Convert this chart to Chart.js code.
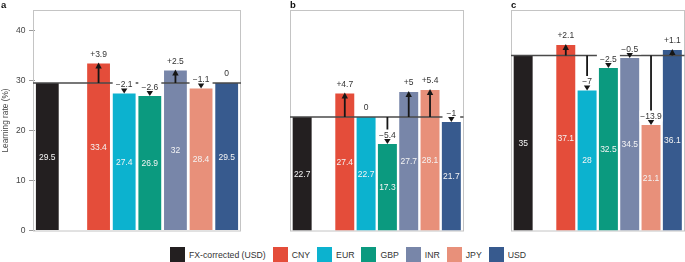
<!DOCTYPE html>
<html>
<head>
<meta charset="utf-8">
<script src="https://cdn.jsdelivr.net/npm/chart.js@4.4.0/dist/chart.umd.min.js"></script>
<style>
body{margin:0;background:#fff;width:685px;height:262px;overflow:hidden;position:relative;font-family:"Liberation Sans",Arial,sans-serif;}
canvas{position:absolute;top:0;}
#panelA{left:0;}
#panelB{left:250px;}
#panelC{left:471px;}
#legend{position:absolute;left:170px;top:247px;display:flex;align-items:center;font-size:8.7px;color:#333;white-space:nowrap;}
#legend .box{width:15px;height:15px;margin-right:4px;}
#legend .txt{margin-right:7px;}
</style>
</head>
<body>
<canvas id="panelA" width="243" height="240"></canvas>
<canvas id="panelB" width="218" height="240"></canvas>
<canvas id="panelC" width="214" height="240"></canvas>
<div id="legend"></div>
<script>
// ---- data ----
const categories = ["FX-corrected (USD)", "CNY", "EUR", "GBP", "INR", "JPY", "USD"];
const panelLetters = ["a", "b", "c"];

const ratesA = [29.5, 33.4, 27.4, 26.9, 32, 28.4, 29.5];
const ratesB = [22.7, 27.4, 22.7, 17.3, 27.7, 28.1, 21.7];
const ratesC = [35, 37.1, 28, 32.5, 34.5, 21.1, 36.1];

const changesA = ["", "+3.9", "\u22122.1", "\u22122.6", "+2.5", "\u22121.1", "0"];
const changesB = ["", "+4.7", "0", "\u22125.4", "+5", "+5.4", "\u22121"];
const changesC = ["", "+2.1", "\u22127", "\u22122.5", "\u22120.5", "\u221213.9", "+1.1"];

const yTicks = [0, 10, 20, 30, 40];

const colors = ["#231f20", "#e44d3a", "#0cb2cf", "#0b9a7f", "#7886a9", "#e8907a", "#375a8e"];

Chart.defaults.font.family = '"Liberation Sans", Arial, sans-serif';

// empty slot after the FX-corrected bar
function toSlots(arr, empty){
    return [arr[0], empty].concat(arr.slice(1));
}

// ---- frame, baseline, arrows and labels ----
const panelDecor = {
    id: "panelDecor",
    beforeDatasetsDraw(chart, args, opts){
        const ctx = chart.ctx, a = chart.chartArea;
        ctx.save();
        ctx.strokeStyle = "#c4c4c4";
        ctx.lineWidth = 1;
        ctx.strokeRect(Math.round(a.left - 1.5) + 0.5, 10.5, Math.round(a.width + 3) - 1, 220.5);
        ctx.restore();
    },
    afterDatasetsDraw(chart, args, opts){
        const ctx = chart.ctx, a = chart.chartArea;
        const xs = chart.scales.x, ys = chart.scales.y;
        const vals = opts.values, changes = opts.changes;
        const y0 = ys.getPixelForValue(vals[0]);
        ctx.save();

        // reference line at the FX-corrected value
        ctx.strokeStyle = "#4a4a4a";
        ctx.lineWidth = 1.3;
        ctx.beginPath();
        ctx.moveTo(a.left - 1.5, y0);
        ctx.lineTo(a.right + 1.5, y0);
        ctx.stroke();

        // arrow shafts
        ctx.strokeStyle = "#161616";
        ctx.lineWidth = 1.8;
        for(let j = 1; j < vals.length; j++){
            const d = vals[j] - vals[0];
            if(Math.abs(d) < 1e-9) continue;
            const cx = xs.getPixelForValue(j + 1);
            const yt = ys.getPixelForValue(vals[j]);
            const end = d > 0 ? yt + 4 : yt - 4;
            if((d > 0 && end < y0) || (d < 0 && end > y0)){
                ctx.beginPath();
                ctx.moveTo(cx, y0);
                ctx.lineTo(cx, end);
                ctx.stroke();
            }
        }

        // change labels with white background
        ctx.font = "8.5px " + Chart.defaults.font.family;
        ctx.textAlign = "center";
        ctx.textBaseline = "middle";
        for(let j = 1; j < vals.length; j++){
            const cx = xs.getPixelForValue(j + 1);
            const yt = ys.getPixelForValue(vals[j]);
            const cy = yt - (vals[j] >= vals[0] ? 9.5 : 9);
            const w = Math.min(ctx.measureText(changes[j]).width + 8, 23);
            ctx.fillStyle = "#fff";
            ctx.fillRect(cx - w / 2, cy - 5.5, w, 11);
            ctx.fillStyle = "#333";
            ctx.fillText(changes[j], cx, cy + 0.5);
        }

        // arrow heads
        ctx.fillStyle = "#161616";
        for(let j = 1; j < vals.length; j++){
            const d = vals[j] - vals[0];
            if(Math.abs(d) < 1e-9) continue;
            const cx = xs.getPixelForValue(j + 1);
            const yt = ys.getPixelForValue(vals[j]);
            const dir = d > 0 ? 1 : -1;
            ctx.beginPath();
            ctx.moveTo(cx, yt - (dir > 0 ? 1 : 0));
            ctx.lineTo(cx - 3.2, yt + dir * 5);
            ctx.lineTo(cx + 3.2, yt + dir * 5);
            ctx.closePath();
            ctx.fill();
        }

        // values inside bars
        ctx.fillStyle = "#f4f4f4";
        const yb = ys.getPixelForValue(0);
        for(let j = 0; j < vals.length; j++){
            const slot = j === 0 ? 0 : j + 1;
            const cx = xs.getPixelForValue(slot);
            const yt = ys.getPixelForValue(vals[j]);
            ctx.fillText(String(vals[j]), cx, (yt + yb) / 2 + 0.5);
        }

        ctx.restore();
    },
    afterDraw(chart, args, opts){
        const ctx = chart.ctx, a = chart.chartArea;
        ctx.save();
        ctx.fillStyle = "#111";
        ctx.font = "bold 9.5px " + Chart.defaults.font.family;
        ctx.textBaseline = "alphabetic";
        ctx.textAlign = "left";
        ctx.fillText(opts.letter, opts.showAxis ? 1 : a.left - 1.5, 8);
        ctx.restore();
    }
};

function makePanel(id, values, changes, letter, showAxis, padding){
    const slotLabels = toSlots(categories, "");
    const slotData = toSlots(values, null);
    const slotColors = toSlots(colors, "rgba(0,0,0,0)");

    return new Chart(document.getElementById(id), {
        type: "bar",
        data: {
            labels: slotLabels,
            datasets: [{
                data: slotData,
                backgroundColor: slotColors,
                borderWidth: 0,
                barPercentage: 0.89,
                categoryPercentage: 1
            }]
        },
        options: {
            responsive: false,
            animation: false,
            devicePixelRatio: 1,
            layout: { padding: padding },
            plugins: {
                legend: { display: false },
                tooltip: { enabled: false },
                panelDecor: { values: values, changes: changes, letter: letter, showAxis: showAxis }
            },
            scales: {
                x: { display: false },
                y: {
                    display: showAxis,
                    min: 0,
                    max: 44,
                    afterBuildTicks: (scale) => {
                        scale.ticks = yTicks.map(v => ({ value: v }));
                    },
                    afterFit: (scale) => { scale.width = 34.5; },
                    border: { display: false },
                    grid: { drawOnChartArea: false, tickLength: 5.5, color: "#999", lineWidth: 1 },
                    ticks: { padding: 3.5, color: "#444", font: { size: 8.5 } },
                    title: {
                        display: true,
                        text: "Learning rate (%)",
                        color: "#444",
                        font: { size: 8.3 },
                        padding: { top: 0.5, bottom: 0 }
                    }
                }
            }
        },
        plugins: [panelDecor]
    });
}

makePanel("panelA", ratesA, changesA, panelLetters[0], true, { left: 0, right: 3.5, top: 10.5, bottom: 9.5 });
makePanel("panelB", ratesB, changesB, panelLetters[1], false, { left: 7, right: 6, top: 10.5, bottom: 9.5 });
makePanel("panelC", ratesC, changesC, panelLetters[2], false, { left: 7, right: 2, top: 10.5, bottom: 9.5 });

// ---- legend ----
const legend = document.getElementById("legend");
categories.forEach((c, i) => {
    const box = document.createElement("span");
    box.className = "box";
    box.style.background = colors[i];
    const txt = document.createElement("span");
    txt.className = "txt";
    txt.textContent = c;
    legend.appendChild(box);
    legend.appendChild(txt);
});
</script>
</body>
</html>
